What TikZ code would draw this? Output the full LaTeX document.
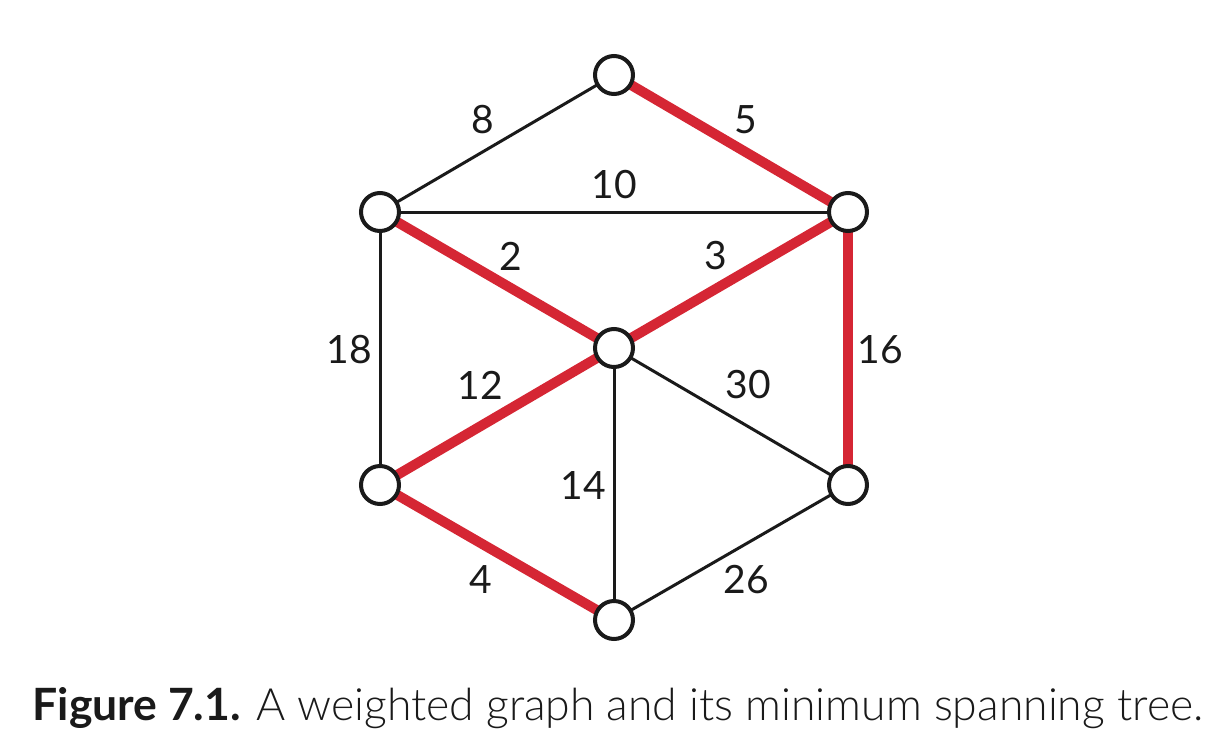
\documentclass[tikz,border=0pt]{standalone}
\usepackage{fontspec}
\setmainfont{Lato}
\newfontfamily\lightfont{Lato Light}
\begin{document}
\definecolor{mstred}{RGB}{213,38,52}
\definecolor{ink}{RGB}{26,26,26}
\begin{tikzpicture}[x=1pt,y=-1pt,
  vert/.style={circle,draw=ink,line width=4pt,fill=white,minimum size=38pt,inner sep=0pt},
  plain/.style={draw=ink,line width=3pt},
  tree/.style={draw=mstred,line width=10pt},
  wlabel/.style={text=ink,font=\fontsize{39}{41}\selectfont,inner sep=0pt}]
\useasboundingbox (0,0) rectangle (1226,742);
\coordinate (T) at (614,75);
\coordinate (UL) at (380,212);
\coordinate (UR) at (848,212);
\coordinate (C) at (614,348);
\coordinate (LL) at (380,485);
\coordinate (LR) at (848,485);
\coordinate (B) at (614,620);
% edges
\draw[plain] (T) -- (UL);
\draw[plain] (UL) -- (UR);
\draw[plain] (UL) -- (LL);
\draw[plain] (C) -- (LR);
\draw[plain] (C) -- (B);
\draw[plain] (LR) -- (B);
\draw[tree] (T) -- (UR);
\draw[tree] (UL) -- (C);
\draw[tree] (C) -- (UR);
\draw[tree] (UR) -- (LR);
\draw[tree] (C) -- (LL);
\draw[tree] (LL) -- (B);
% vertices
\foreach \v in {T,UL,UR,C,LL,LR,B} \node[vert] (n\v) at (\v) {};
% weights
\node[wlabel] (w8) at (483,120) {8};
\node[wlabel] (w5) at (746,120) {5};
\node[wlabel] (w10) at (614,185) {10};
\node[wlabel] (w2) at (511,256) {2};
\node[wlabel] (w3) at (716,256) {3};
\node[wlabel] (w18) at (349,350) {18};
\node[wlabel] (w16) at (880,350) {16};
\node[wlabel] (w12) at (480,385) {12};
\node[wlabel] (w30) at (748,385) {30};
\node[wlabel] (w14) at (583,485) {14};
\node[wlabel] (w4) at (481,580) {4};
\node[wlabel] (w26) at (746,580) {26};
% caption
\node[text=ink,font=\fontsize{44.5}{46}\selectfont,inner sep=0pt] (cap) at (618,708)
  {\textbf{Figure 7.1.} {\lightfont A weighted graph and its minimum spanning tree.}};
\end{tikzpicture}
\end{document}
